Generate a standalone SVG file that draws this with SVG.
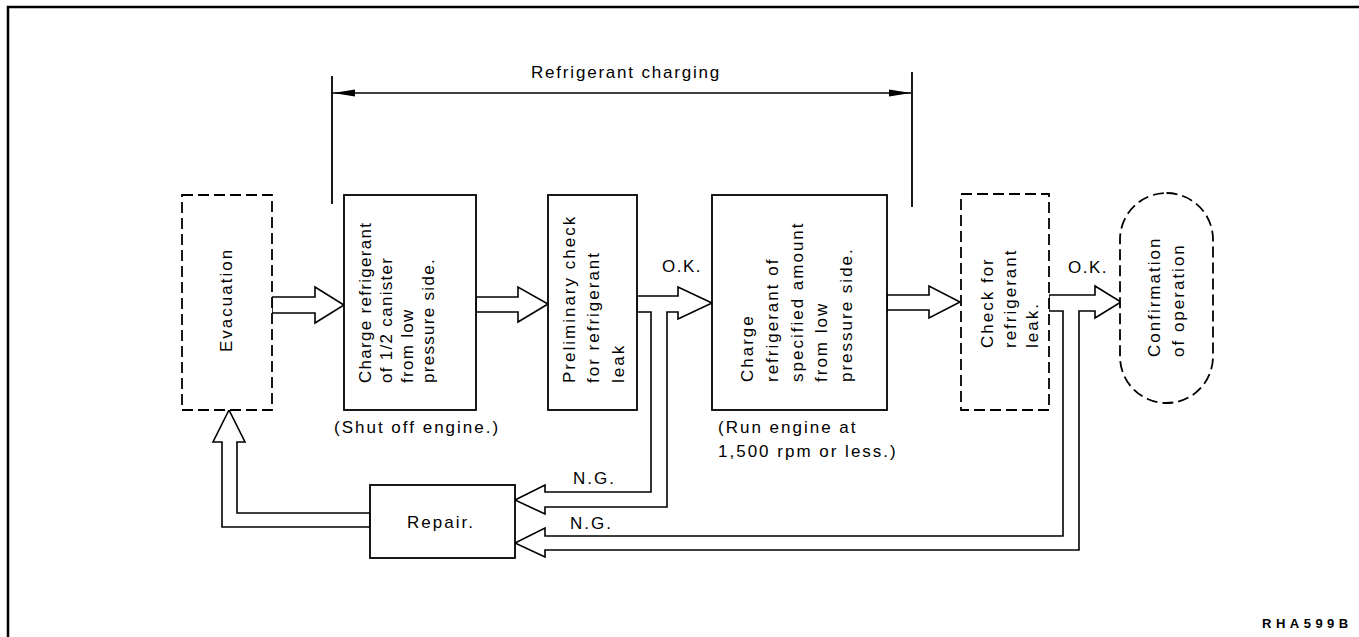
<svg xmlns="http://www.w3.org/2000/svg" width="1359" height="637" viewBox="0 0 1359 637">
<style>
  .box { fill: #fff; stroke: #000; stroke-width: 1.8; }
  .dash { fill: #fff; stroke: #000; stroke-width: 1.8; stroke-dasharray: 11 5; }
  .conn { fill: #fff; stroke: #000; stroke-width: 1.6; stroke-linejoin: miter; }
  .line { fill: none; stroke: #000; stroke-width: 1.8; }
  text { font-family: "Liberation Sans", Arial, sans-serif; font-size: 17px; letter-spacing: 2px; fill: #000; }
  .tight { letter-spacing: 1.3px; }
  .code { font-size: 13px; font-weight: bold; letter-spacing: 4.5px; }
</style>
<defs>
  <marker id="ah" viewBox="0 0 22 10" refX="22" refY="5" markerWidth="22" markerHeight="10" markerUnits="userSpaceOnUse" orient="auto-start-reverse">
    <path d="M0,1.5 L22,5 L0,8.5 Z" fill="#000"/>
  </marker>
</defs>

<!-- frame -->
<path d="M8,637 L8,7 L1359,7" fill="none" stroke="#000" stroke-width="2.5"/>

<!-- range marker -->
<g id="range">
  <line class="line" x1="332" y1="76" x2="332" y2="204"/>
  <line class="line" x1="912" y1="72" x2="912" y2="207"/>
  <line x1="333" y1="93" x2="911" y2="93" stroke="#000" stroke-width="1.5" marker-start="url(#ah)" marker-end="url(#ah)"/>
  <text x="531" y="78" style="letter-spacing:1.8px">Refrigerant charging</text>
</g>

<g id="connectors">
  <!-- Evacuation -> Charge 1/2 -->
  <path class="conn" d="M272,297 L315,297 L315,287 L344,305 L315,323 L315,313 L272,313 Z"/>
  <!-- Charge 1/2 -> Preliminary -->
  <path class="conn" d="M476,297 L518,297 L518,287 L548,304 L518,322 L518,312 L476,312 Z"/>
  <!-- Preliminary -> Charge specified (O.K.) and -> Repair (N.G.) -->
  <path class="conn" d="M637,296 L678,296 L678,287 L712,303 L678,319 L678,312 L667,312 L667,507 L545,507 L545,514 L515,500 L545,485 L545,492 L651,492 L651,312 L637,312 Z"/>
  <!-- Charge specified -> Check -->
  <path class="conn" d="M887,295 L929,295 L929,286 L960,302 L929,318 L929,310 L887,310 Z"/>
  <!-- Check -> Confirmation (O.K.) and -> Repair (N.G.) -->
  <path class="conn" d="M1049,295 L1095,295 L1095,286 L1121,302 L1095,318 L1095,311 L1079,311 L1079,550 L545,550 L545,557 L515,543 L545,528 L545,536 L1063,536 L1063,311 L1049,311 Z"/>
  <!-- Repair -> Evacuation -->
  <path class="conn" d="M370,513 L237,513 L237,442 L245,442 L229,410 L213,442 L222,442 L222,527 L370,527 Z"/>
  <text x="662" y="272" style="letter-spacing:1.5px">O.K.</text>
  <text x="1068" y="273" style="letter-spacing:1.5px">O.K.</text>
  <text x="573" y="484">N.G.</text>
  <text x="570" y="529">N.G.</text>
</g>

<g id="evacuation">
  <rect class="dash" x="182" y="195" width="90" height="215"/>
  <text transform="translate(232,352) rotate(-90)">Evacuation</text>
</g>

<g id="charge-half">
  <rect class="box" x="344" y="195" width="132" height="215"/>
  <text class="tight" transform="translate(371,383) rotate(-90)">Charge refrigerant</text>
  <text class="tight" transform="translate(392,383) rotate(-90)">of 1/2 canister</text>
  <text class="tight" transform="translate(413,383) rotate(-90)">from low</text>
  <text class="tight" transform="translate(434,383) rotate(-90)">pressure side.</text>
  <text x="334" y="433">(Shut off engine.)</text>
</g>

<g id="preliminary">
  <rect class="box" x="548" y="195" width="89" height="215"/>
  <text transform="translate(575,383) rotate(-90)">Preliminary check</text>
  <text transform="translate(599,383) rotate(-90)">for refrigerant</text>
  <text transform="translate(624,383) rotate(-90)">leak</text>
</g>

<g id="charge-specified">
  <rect class="box" x="712" y="195" width="175" height="215"/>
  <text transform="translate(753,382) rotate(-90)">Charge</text>
  <text transform="translate(778,382) rotate(-90)">refrigerant of</text>
  <text transform="translate(803,382) rotate(-90)">specified amount</text>
  <text transform="translate(827,382) rotate(-90)">from low</text>
  <text transform="translate(852,382) rotate(-90)">pressure side.</text>
  <text x="718" y="433">(Run engine at</text>
  <text x="718" y="457">1,500 rpm or less.)</text>
</g>

<g id="check">
  <rect class="dash" x="961" y="194" width="88" height="216"/>
  <text transform="translate(993,348) rotate(-90)">Check for</text>
  <text transform="translate(1016,348) rotate(-90)">refrigerant</text>
  <text transform="translate(1038,348) rotate(-90)">leak.</text>
</g>

<g id="confirmation">
  <rect class="dash" x="1120" y="193" width="93" height="210" rx="46.5" ry="46.5"/>
  <text transform="translate(1160,357) rotate(-90)">Confirmation</text>
  <text transform="translate(1184,357) rotate(-90)">of operation</text>
</g>

<g id="repair">
  <rect class="box" x="370" y="485" width="145" height="73"/>
  <text x="407" y="528">Repair.</text>
</g>

<text class="code" x="1262" y="628">RHA599B</text>
</svg>
